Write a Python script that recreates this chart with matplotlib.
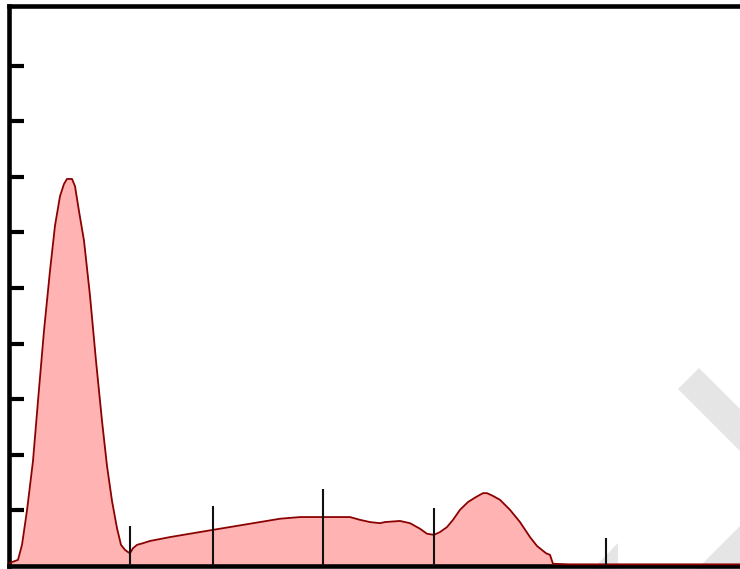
import matplotlib
matplotlib.use("Agg")
import matplotlib.pyplot as plt
from matplotlib.patches import Polygon
import numpy as np

W, H = 740, 569

# curve samples (x in axis units, y in tick units)
xs = [0, 9, 13, 18, 24, 29, 35, 41, 46, 51, 55, 58, 63, 66, 70, 75, 81, 87, 93, 98,
      103, 108, 112, 116, 119, 121, 124, 128, 134, 141, 161, 204, 241, 271, 291, 314,
      341, 351, 361, 371, 376, 391, 401, 411, 418, 425, 431, 438, 444, 451, 459, 467,
      474, 478, 484, 491, 501, 511, 521, 528, 537, 541, 544, 560, 640, 731]
ys = [0.05, 0.11, 0.38, 1.0, 1.89, 2.97, 4.23, 5.31, 6.12, 6.65, 6.87, 6.96, 6.96, 6.83,
      6.38, 5.85, 4.86, 3.69, 2.61, 1.80, 1.17, 0.68, 0.38, 0.29, 0.25, 0.23, 0.32,
      0.38, 0.41, 0.45, 0.52, 0.65, 0.76, 0.85, 0.88, 0.88, 0.88, 0.83, 0.79, 0.77,
      0.79, 0.81, 0.77, 0.67, 0.58, 0.56, 0.61, 0.70, 0.83, 1.01, 1.15, 1.24, 1.31,
      1.31, 1.26, 1.19, 1.01, 0.79, 0.52, 0.36, 0.23, 0.20, 0.04, 0.03, 0.03, 0.03]

# vertical marker lines
marker_x = [121, 204, 314, 425, 597]
marker_h = [0.72, 1.08, 1.38, 1.04, 0.50]

yticks = list(range(1, 10))

fig = plt.figure(figsize=(W / 100, H / 100), dpi=100)
left = 9 / W
bottom = 3 / H
top = 6 / H
ax = fig.add_axes([left, bottom, (W + 10) / W - left, 1 - top - bottom])
ax.set_xlim(0, 741)
ax.set_ylim(0, 10.07)

ax.fill_between(xs, ys, 0, color="#ffb3b3", zorder=2, linewidth=0)
ax.plot(xs, ys, color="#8b0000", linewidth=1.3, zorder=3)
ax.vlines(marker_x, 0, marker_h, color="#111111", linewidth=1.5, zorder=4)

ax.set_yticks(yticks)
ax.set_yticklabels([])
ax.set_xticks([])
ax.tick_params(axis="y", direction="in", length=11, width=3, color="black")
for s in ax.spines.values():
    s.set_linewidth(3.3)
    s.set_color("black")

# faint watermark fragments (pixel coordinates)
def px(pts):
    return [(x / W, 1 - y / H) for x, y in pts]

wm = [
    [(699, 368), (678, 389), (760, 471), (760, 429)],
    [(697, 569), (742, 524), (742, 569)],
    [(593, 569), (618, 543), (618, 569)],
]
for poly in wm:
    fig.patches.append(Polygon(px(poly), closed=True, transform=fig.transFigure,
                               facecolor="#e5e5e5", edgecolor="none", zorder=-1))
ax.set_facecolor("none")

fig.savefig("out.png", dpi=100)
